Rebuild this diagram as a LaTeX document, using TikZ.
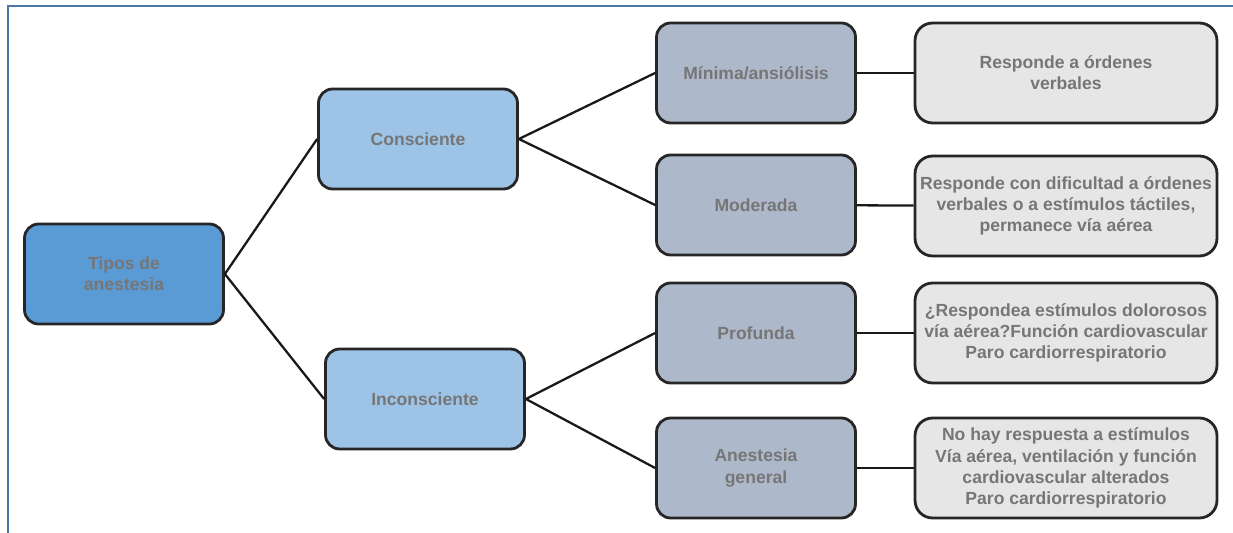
\documentclass[tikz,border=0pt]{standalone}
\usepackage{fontspec}
\setmainfont{Liberation Sans}
\usepackage{tikz}
\definecolor{framecol}{RGB}{74,119,168}
\definecolor{rootcol}{RGB}{91,155,213}
\definecolor{levelcol}{RGB}{157,195,230}
\definecolor{typecol}{RGB}{173,185,202}
\definecolor{notecol}{RGB}{231,230,230}
\definecolor{txtcol}{RGB}{118,118,118}

\begin{document}
\begin{tikzpicture}[x=0.02cm,y=-0.02cm]
\tikzstyle{box}=[draw=black!85,line width=1.6pt,rounded corners=8pt,align=center,
  text=txtcol,font=\fontsize{10}{12}\selectfont\bfseries,
  minimum width=3.98cm,minimum height=2cm,inner sep=0]
\tikzstyle{note}=[box,fill=notecol,minimum width=6.04cm,rounded corners=10pt]
\tikzstyle{link}=[draw=black!90,line width=1.3pt]
\useasboundingbox (0,0) rectangle (1233,533);
\draw[framecol,line width=1.1pt] (8,533) -- (8,6) -- (1233,6);
\node[box,fill=rootcol] (tipos) at (124,274) {Tipos de\\anestesia};
\node[box,fill=levelcol] (cons) at (418,139) {Consciente};
\node[box,fill=levelcol] (incons) at (425,399) {Inconsciente};
\node[box,fill=typecol] (min) at (756,73) {Mínima/ansiólisis};
\node[box,fill=typecol] (mod) at (756,205) {Moderada};
\node[box,fill=typecol] (prof) at (756,333) {Profunda};
\node[box,fill=typecol] (gen) at (756,468) {Anestesia\\general};
\node[note] (r1) at (1066,73) {Responde a órdenes\\verbales};
\node[note] (r2) at (1066,206) {Responde con dificultad a órdenes\\verbales o a estímulos táctiles,\\permanece vía aérea};
\node[note] (r3) at (1066,333) {¿Respondea estímulos dolorosos\\vía aérea?Función cardiovascular\\Paro cardiorrespiratorio};
\node[note] (r4) at (1066,468) {No hay respuesta a estímulos\\Vía aérea, ventilación y función\\cardiovascular alterados\\Paro cardiorrespiratorio};
\draw[link] (tipos.east) -- (cons.west);
\draw[link] (tipos.east) -- (incons.west);
\draw[link] (cons.east) -- (min.west);
\draw[link] (cons.east) -- (mod.west);
\draw[link] (incons.east) -- (prof.west);
\draw[link] (incons.east) -- (gen.west);
\draw[link] (min) -- (r1);
\draw[link] (mod) -- (r2);
\draw[link] (prof) -- (r3);
\draw[link] (gen) -- (r4);
\end{tikzpicture}
\end{document}
